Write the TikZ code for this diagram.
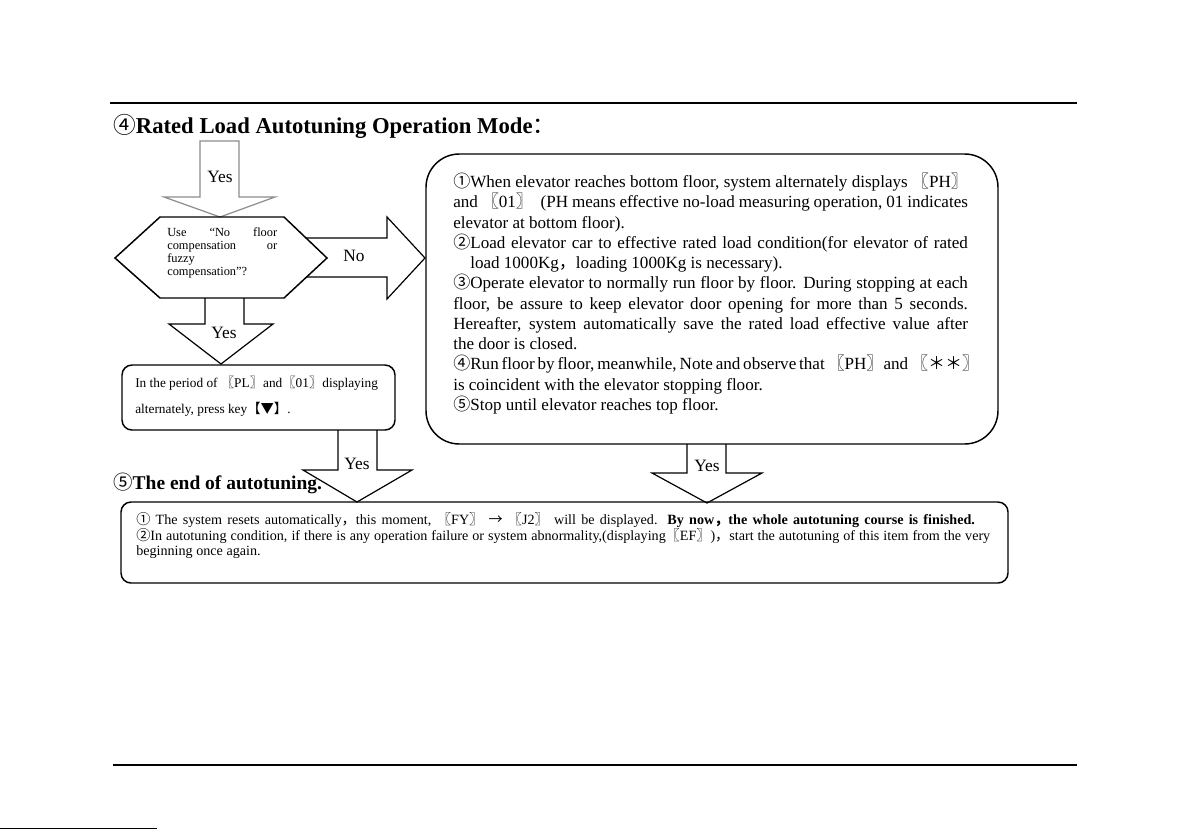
\documentclass[tikz,border=0pt]{standalone}
\usepackage{fontspec}
\setmainfont{Liberation Serif}
\newfontfamily\cjk{Noto Sans CJK SC}
\newcommand\cj[1]{{\cjk #1}}
\newcommand\obr{\cj{〖}}
\newcommand\cbr{\cj{〗}}
\newcommand\jline[2]{\makebox[#1][s]{#2}}
\begin{document}
\begin{tikzpicture}[x=0.75pt,y=-0.75pt,
  frame/.style={draw=black,line width=1.1pt},
  blk/.style={draw=black,line width=0.9pt,line join=miter},
  gry/.style={draw=black!45,line width=0.9pt,line join=miter},
  lbl/.style={inner sep=0pt,font=\fontsize{13}{15}\selectfont},
  txt/.style={inner sep=0pt,anchor=base west}]
\useasboundingbox (0,0) rectangle (1192,829);
% page rules
\draw[line width=1.5pt] (110,103) -- (1077,103);
\draw[line width=0.8pt] (113,765) -- (1077,765);
\draw[line width=0.8pt] (0,828.3) -- (157,828.3);
% title
\node[txt,font=\bfseries\fontsize{17}{20}\selectfont] (title) at (113,133)
  {\cj{\mdseries ④}Rated Load Autotuning Operation Mode\cj{\mdseries ：}};
% top gray arrow
\draw[gry] (200,141) -- (239,141) -- (239,197) -- (275,197) -- (220,217) -- (164,197) -- (200,197) -- cycle;
\node[lbl] (yes1) at (220,177) {Yes};
% hexagon decision
\draw[frame] (160,217) -- (284,217) -- (327,258) -- (284,298) -- (160,298) -- (115,258) -- cycle;
\node[txt] (hex) at (167,236) {\parbox[t]{83pt}{\fontsize{9.3}{9.75}\selectfont
  \jline{82.5pt}{Use “No floor}\\
  \jline{82.5pt}{compensation or}\\
  fuzzy\\
  compensation”?}};
% No arrow
\draw[blk] (306,238) -- (387,238) -- (387,217) -- (425,258) -- (387,299) -- (387,277) -- (306,277);
\node[lbl] (no) at (354,256) {No};
% Yes arrow below hexagon
\draw[blk] (205,298) -- (205,324) -- (169,324) -- (221,364) -- (273,324) -- (244,324) -- (244,298);
\node[lbl] (yes2) at (224,333) {Yes};
% left box
\draw[frame,rounded corners=7.5pt] (122,365) rectangle (395,430);
\node[txt] (ltext) at (135,387) {\parbox[t]{190pt}{\fontsize{10}{19.5}\selectfont
  \jline{182pt}{In the period of \obr PL\cbr and\obr 01\cbr displaying}\\
  alternately, press key\cj{【▼】}.}};
% Yes arrow from left box
\draw[blk] (338,430) -- (338,470) -- (303,470) -- (357,502) -- (412,470) -- (377,470) -- (377,430);
\node[lbl] (yes3) at (357,464) {Yes};
% section 5 title
\node[txt,font=\bfseries\fontsize{14.6}{16}\selectfont] (title5) at (113,489)
  {\cj{\mdseries ⑤}The end of autotuning.};
% right box
\draw[frame,rounded corners=25pt] (426,154) rectangle (998,444);
\node[txt] (rtext) at (453,187.5) {\parbox[t]{390pt}{\fontsize{12.8}{15.2}\selectfont
\jline{386pt}{\cj{①}When elevator reaches bottom floor, system alternately displays \obr PH\cbr}\\
\jline{386pt}{and \obr 01\cbr\ \ (PH means effective no-load measuring operation, 01 indicates}\\
elevator at bottom floor).\\
\jline{386pt}{\cj{②}Load elevator car to effective rated load condition(for elevator of rated}\\
\hspace*{12.75pt}load 1000Kg\cj{，}loading 1000Kg is necessary).\\
\jline{386pt}{\cj{③}Operate elevator to normally run floor by floor. During stopping at each}\\
\jline{386pt}{floor, be assure to keep elevator door opening for more than 5 seconds.}\\
\jline{386pt}{Hereafter, system automatically save the rated load effective value after}\\
the door is closed.\\
\jline{386pt}{\cj{④}Run floor by floor, meanwhile, Note and observe that \obr PH\cbr and \obr\cj{＊＊}\cbr}\\
is coincident with the elevator stopping floor.\\
\cj{⑤}Stop until elevator reaches top floor.}};
% Yes arrow from right box
\draw[blk] (687,444) -- (687,473) -- (652,473) -- (707,503) -- (762,473) -- (726,473) -- (726,444);
\node[lbl] (yes4) at (707,466) {Yes};
% bottom box
\draw[frame,rounded corners=7.5pt] (121,502) rectangle (1008,583);
\node[txt] (btext) at (136,524.5) {\parbox[t]{645pt}{\fontsize{10.6}{9.3}\selectfont
\jline{629pt}{\cj{①} The system resets automatically\cj{，}this moment, \obr FY\cbr\ \cj{→} \obr J2\cbr\ will be displayed. \textbf{By now\cj{，}the whole autotuning course is finished.}}\\
\jline{640.5pt}{\cj{②}In autotuning condition, if there is any operation failure or system abnormality,(displaying\obr EF\cbr)\cj{，}start the autotuning of this item from the very}\\
beginning once again.}};
\end{tikzpicture}
\end{document}
